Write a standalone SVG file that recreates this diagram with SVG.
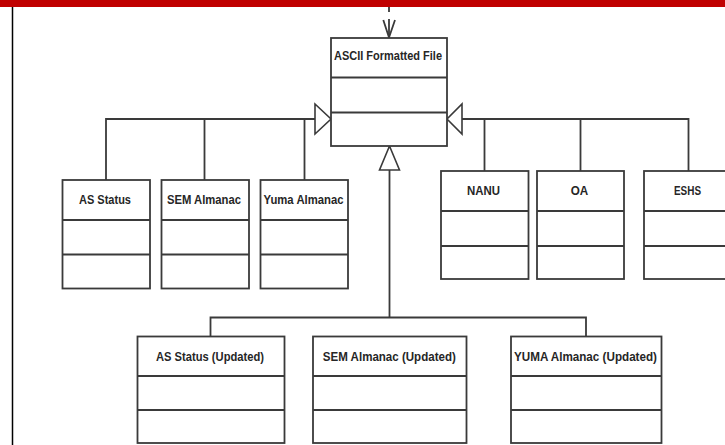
<svg xmlns="http://www.w3.org/2000/svg" width="725" height="445" viewBox="0 0 725 445">
  <style>
    .box { fill: #ffffff; stroke: #3a3a3a; stroke-width: 1.8; }
    .div { stroke: #3a3a3a; stroke-width: 1.8; }
    .wire { fill: none; stroke: #3a3a3a; stroke-width: 1.8; }
    .head { fill: #ffffff; stroke: #3a3a3a; stroke-width: 1.6; stroke-linejoin: miter; }
    .lbl { font-family: "Liberation Sans", Arial, sans-serif; font-size: 13.5px; font-weight: bold; fill: #262626; text-anchor: middle; dominant-baseline: central; }
  </style>

  <!-- page frame: red header band and left margin rule -->
  <rect x="0" y="0" width="725" height="7" fill="#c00000"/>
  <line x1="12.5" y1="7" x2="12.5" y2="445" stroke="#000000" stroke-width="1.5"/>

  <!-- connectors -->
  <g id="connectors">
    <!-- incoming dependency into the base class -->
    <path class="wire" d="M389 7 V12 M389 19 V37.5" stroke-width="1.5"/>
    <path class="wire" d="M383.3 20 L389 37.5 L395 20" stroke-width="1.5"/>

    <!-- left generalization group -->
    <path class="wire" d="M106 180 V119 H315 M204.5 119 V180 M304.5 119 V180"/>
    <polygon class="head" points="315,104 315,134 331,119"/>

    <!-- right generalization group -->
    <path class="wire" d="M462 119 H688.5 V171 M484.5 119 V171 M580.5 119 V171"/>
    <polygon class="head" points="462,104 462,134 447,119"/>

    <!-- lower generalization group -->
    <path class="wire" d="M389.5 170 V317.5 M210.5 336.5 V317.5 H586 V336.5"/>
    <polygon class="head" points="379.5,170 399.5,170 389.5,146"/>
  </g>

  <!-- base class -->
  <g id="ascii-formatted-file">
    <rect class="box" x="331" y="38" width="116" height="108"/>
    <line class="div" x1="331" y1="77.5" x2="447" y2="77.5"/>
    <line class="div" x1="331" y1="112.5" x2="447" y2="112.5"/>
    <text class="lbl" x="388" y="55.5" textLength="108" lengthAdjust="spacingAndGlyphs">ASCII Formatted File</text>
  </g>

  <!-- left row -->
  <g id="as-status">
    <rect class="box" x="62.5" y="180" width="87.5" height="108.5"/>
    <line class="div" x1="62.5" y1="220" x2="150" y2="220"/>
    <line class="div" x1="62.5" y1="254.5" x2="150" y2="254.5"/>
    <text class="lbl" x="105" y="199.5" textLength="52" lengthAdjust="spacingAndGlyphs">AS Status</text>
  </g>
  <g id="sem-almanac">
    <rect class="box" x="161.5" y="180" width="87.5" height="108.5"/>
    <line class="div" x1="161.5" y1="220" x2="249" y2="220"/>
    <line class="div" x1="161.5" y1="254.5" x2="249" y2="254.5"/>
    <text class="lbl" x="204" y="199.5" textLength="74" lengthAdjust="spacingAndGlyphs">SEM Almanac</text>
  </g>
  <g id="yuma-almanac">
    <rect class="box" x="260.5" y="180" width="87.5" height="108.5"/>
    <line class="div" x1="260.5" y1="220" x2="348" y2="220"/>
    <line class="div" x1="260.5" y1="254.5" x2="348" y2="254.5"/>
    <text class="lbl" x="303.5" y="199.5" textLength="80" lengthAdjust="spacingAndGlyphs">Yuma Almanac</text>
  </g>

  <!-- right row -->
  <g id="nanu">
    <rect class="box" x="441" y="171" width="87.5" height="108"/>
    <line class="div" x1="441" y1="211" x2="528.5" y2="211"/>
    <line class="div" x1="441" y1="246" x2="528.5" y2="246"/>
    <text class="lbl" x="483.5" y="190.5" textLength="33" lengthAdjust="spacingAndGlyphs">NANU</text>
  </g>
  <g id="oa">
    <rect class="box" x="537" y="171" width="87" height="108"/>
    <line class="div" x1="537" y1="211" x2="624" y2="211"/>
    <line class="div" x1="537" y1="246" x2="624" y2="246"/>
    <text class="lbl" x="579.5" y="190.5" textLength="17.5" lengthAdjust="spacingAndGlyphs">OA</text>
  </g>
  <g id="eshs">
    <rect class="box" x="644" y="171" width="88" height="108"/>
    <line class="div" x1="644" y1="211" x2="732" y2="211"/>
    <line class="div" x1="644" y1="246" x2="732" y2="246"/>
    <text class="lbl" x="687.5" y="190.5" textLength="27" lengthAdjust="spacingAndGlyphs">ESHS</text>
  </g>

  <!-- lower row -->
  <g id="as-status-updated">
    <rect class="box" x="137.5" y="336.5" width="147" height="106.5"/>
    <line class="div" x1="137.5" y1="376" x2="284.5" y2="376"/>
    <line class="div" x1="137.5" y1="410" x2="284.5" y2="410"/>
    <text class="lbl" x="210" y="356" textLength="108" lengthAdjust="spacingAndGlyphs">AS Status (Updated)</text>
  </g>
  <g id="sem-almanac-updated">
    <rect class="box" x="313" y="336.5" width="153.5" height="106.5"/>
    <line class="div" x1="313" y1="376" x2="466.5" y2="376"/>
    <line class="div" x1="313" y1="410" x2="466.5" y2="410"/>
    <text class="lbl" x="389.3" y="356" textLength="133" lengthAdjust="spacingAndGlyphs">SEM Almanac (Updated)</text>
  </g>
  <g id="yuma-almanac-updated">
    <rect class="box" x="511" y="336.5" width="150.5" height="106.5"/>
    <line class="div" x1="511" y1="376" x2="661.5" y2="376"/>
    <line class="div" x1="511" y1="410" x2="661.5" y2="410"/>
    <text class="lbl" x="585.5" y="356" textLength="143" lengthAdjust="spacingAndGlyphs">YUMA Almanac (Updated)</text>
  </g>
</svg>
